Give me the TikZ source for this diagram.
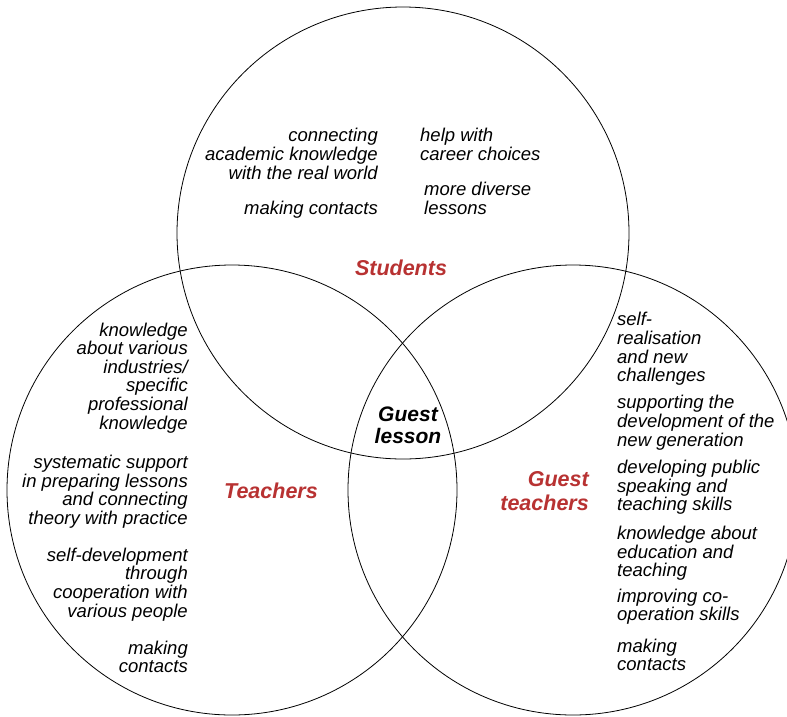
\documentclass[tikz,border=0pt]{standalone}
\usepackage{fontspec}
\setmainfont{Liberation Sans}
\definecolor{labelred}{RGB}{184,50,50}
\tikzset{
  ring/.style={draw=black, line width=0.8pt},
  item/.style={inner sep=0pt, font=\itshape\fontsize{18.5}{18.6}\selectfont},
  itemR/.style={item, align=right, anchor=base east},
  itemL/.style={item, align=left, anchor=base west},
  title/.style={inner sep=0pt, text=labelred, font=\bfseries\itshape\fontsize{21.5}{24}\selectfont}
}
\begin{document}
\begin{tikzpicture}[x=1pt,y=-1pt]
\useasboundingbox (0,0) rectangle (787,716);
\fill[white] (0,0) rectangle (787,716);
\node[ring, circle, minimum size=452pt, inner sep=0pt] (cs) at (403,233) {};
\node[ring, circle, minimum size=450pt, inner sep=0pt] (ct) at (232,490) {};
\node[ring, circle, minimum size=450pt, inner sep=0pt] (cg) at (573,490) {};

% Students (base anchor = baseline of the last line)
\node[itemR] (s1) at (378,179) {connecting\\academic knowledge\\with the real world};
\node[itemR] (s2) at (378,214) {making contacts};
\node[itemL] (s3) at (420,160.5) {help with\\career choices};
\node[itemL] (s4) at (424,214) {more diverse\\lessons};
\node[title, anchor=base] (st) at (401,275) {Students};

% Teachers
\node[itemR] (t1) at (188,429) {knowledge\\about various\\industries/\\specific\\professional\\knowledge};
\node[itemR] (t2) at (188,524.5) {systematic support\\in preparing lessons\\and connecting\\theory with practice};
\node[itemR] (t3) at (188,617) {self-development\\through\\cooperation with\\various people};
\node[itemR] (t4) at (188,672.6) {making\\contacts};
\node[title, anchor=base] (tt) at (271,498) {Teachers};

% Guest teachers
\node[itemL] (g1) at (617,381.7) {self-\\realisation\\and new\\challenges};
\node[itemL] (g2) at (617,446) {supporting the\\development of the\\new generation};
\node[itemL] (g3) at (617,510.7) {developing public\\speaking and\\teaching skills};
\node[itemL] (g4) at (617,576.7) {knowledge about\\education and\\teaching};
\node[itemL] (g5) at (617,620.7) {improving co-\\operation skills};
\node[itemL] (g6) at (617,670.7) {making\\contacts};
\node[title, align=right, anchor=base east] (gt) at (589,510.7) {Guest\\teachers};

% Centre
\node[inner sep=0pt, align=center, anchor=base, font=\bfseries\itshape\fontsize{21}{22}\selectfont] (gl) at (408,443) {Guest\\lesson};
\end{tikzpicture}
\end{document}
